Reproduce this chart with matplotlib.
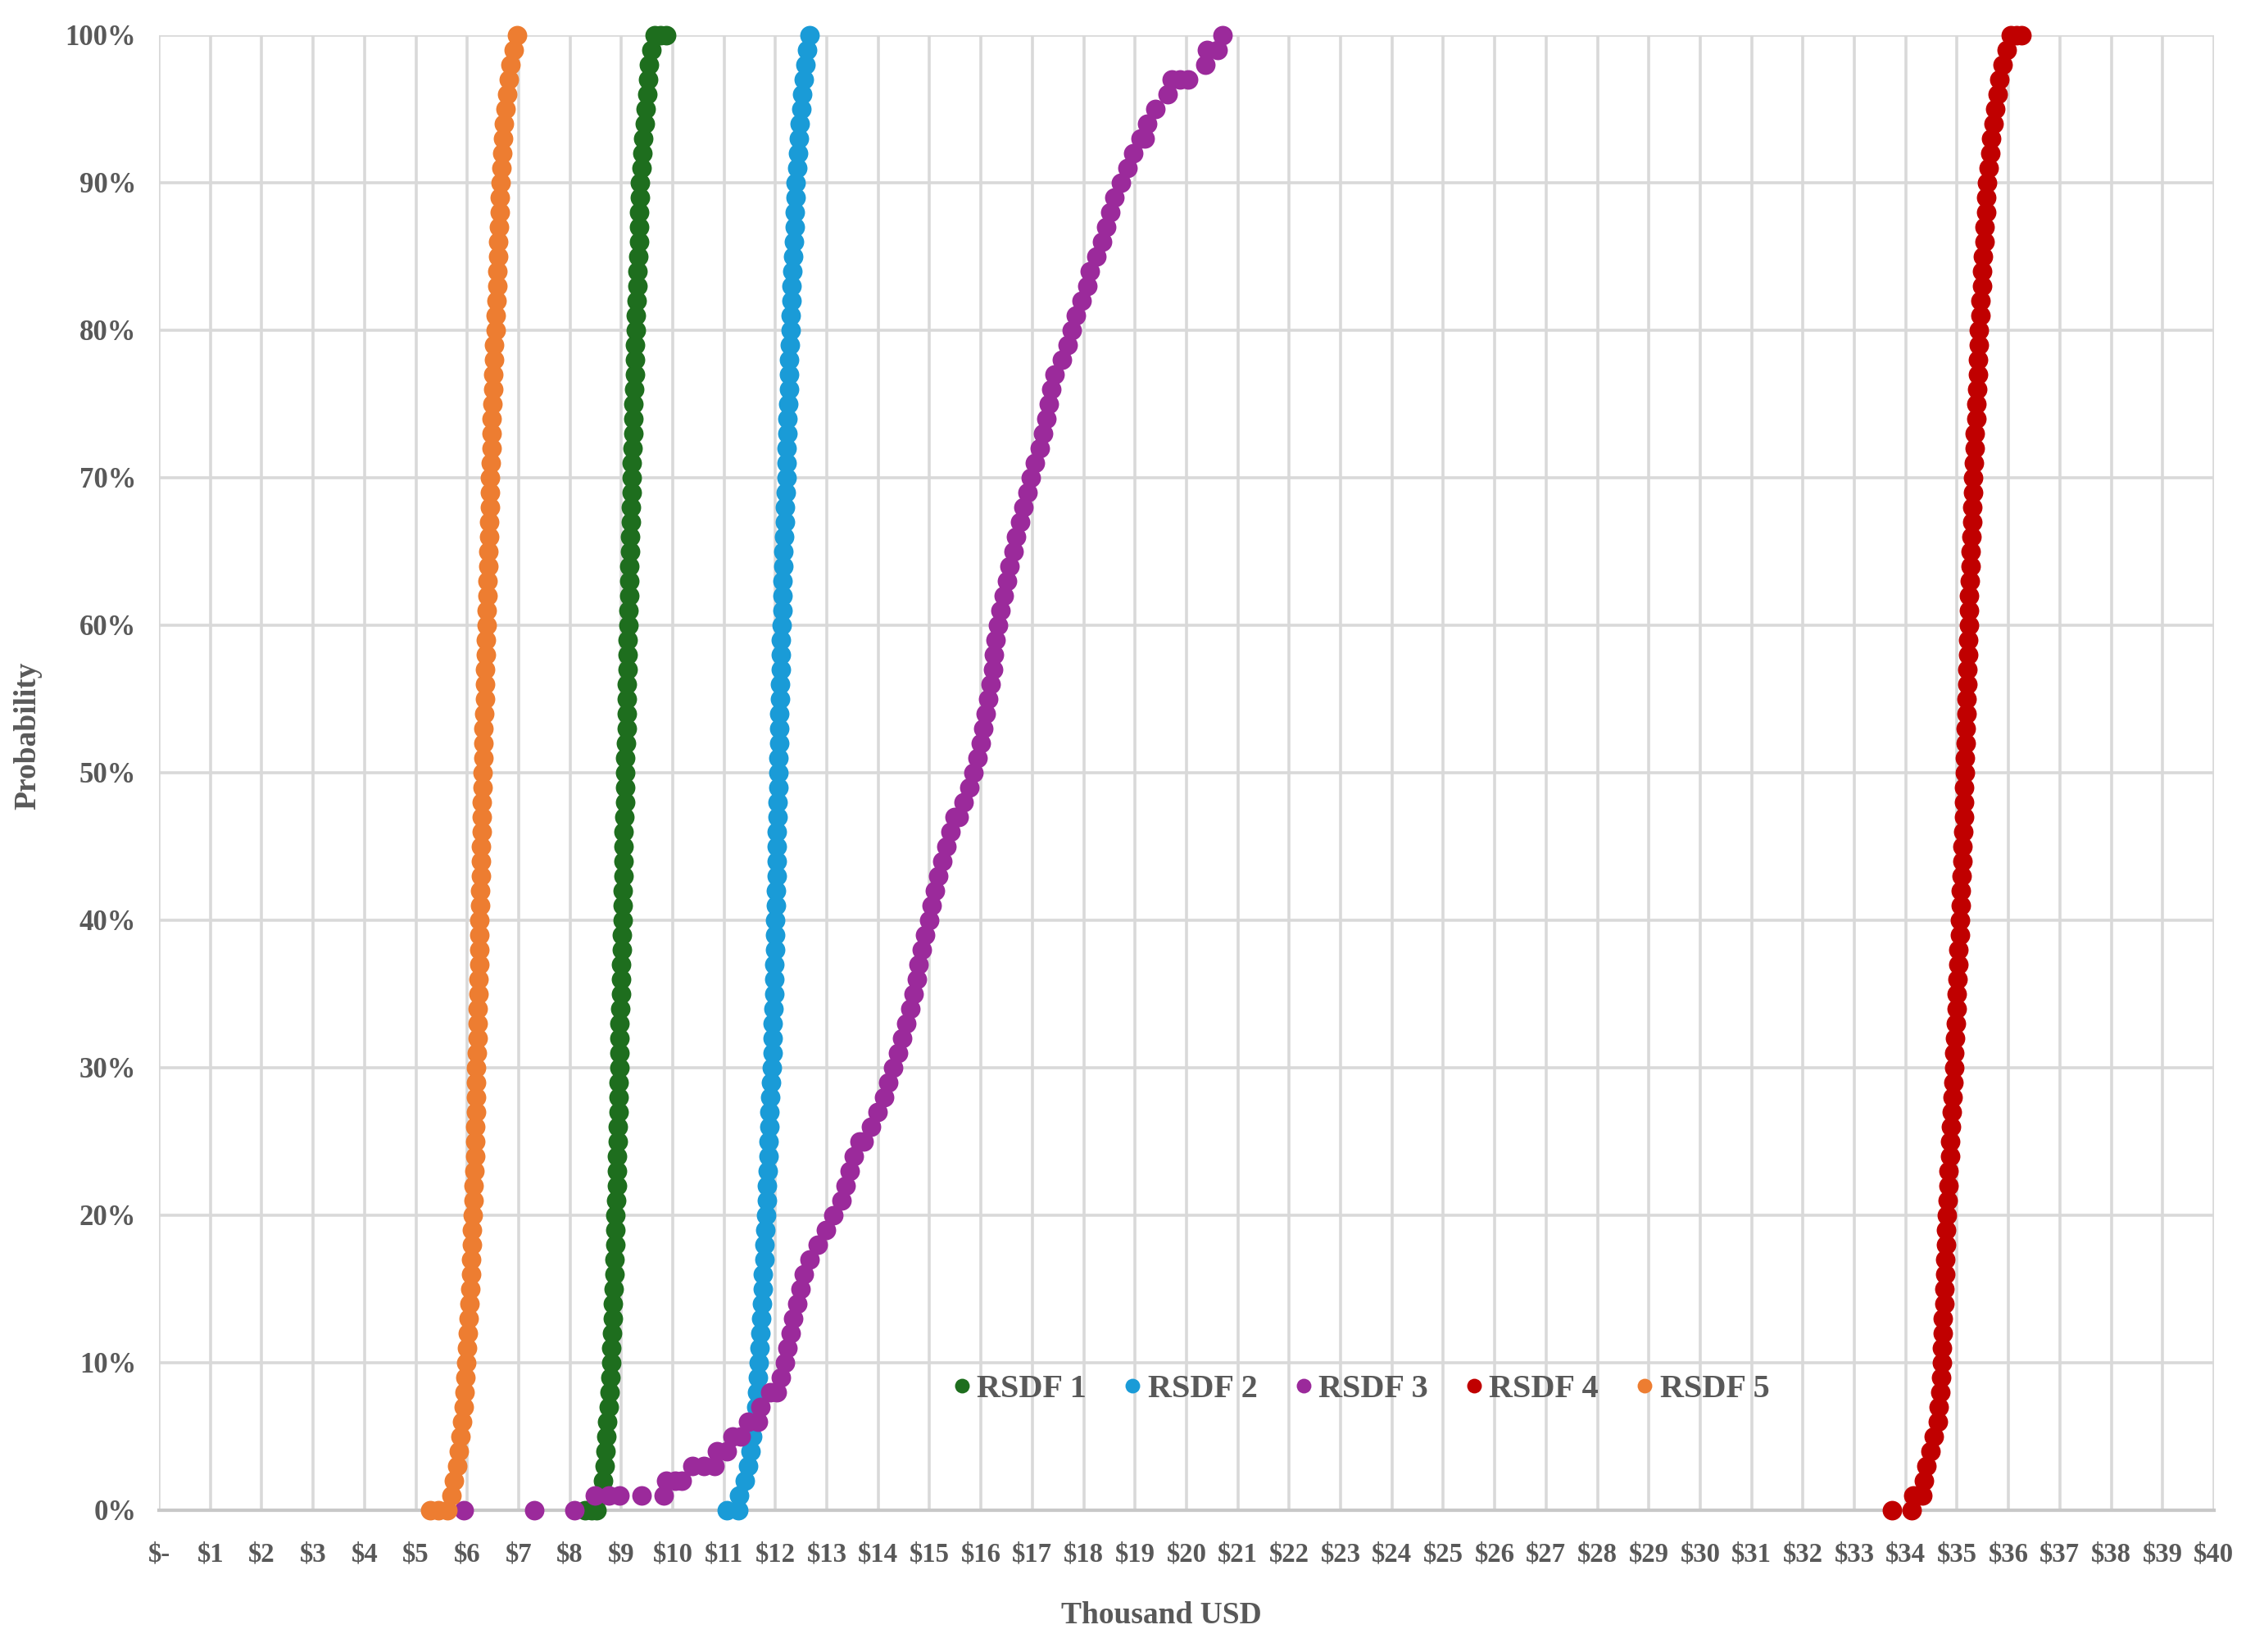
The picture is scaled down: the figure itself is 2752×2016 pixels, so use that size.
import matplotlib
matplotlib.use("Agg")
import matplotlib.pyplot as plt
from matplotlib.ticker import FixedLocator

plt.rcParams['text.parse_math'] = False
plt.rcParams['font.family'] = ['Liberation Serif', 'DejaVu Serif']

# ---------------- data (Thousand USD at each probability level) ----------------
PROB = [0, 1, 2, 3, 4, 5, 6, 7, 8, 9, 10, 11, 12, 13, 14, 15, 16, 17, 18, 19, 20,
        21, 22, 23, 24, 25, 26, 27, 28, 29, 30, 31, 32, 33, 34, 35, 36, 37, 38, 39, 40,
        41, 42, 43, 44, 45, 46, 47, 48, 49, 50, 51, 52, 53, 54, 55, 56, 57, 58, 59, 60,
        61, 62, 63, 64, 65, 66, 67, 68, 69, 70, 71, 72, 73, 74, 75, 76, 77, 78, 79, 80,
        81, 82, 83, 84, 85, 86, 87, 88, 89, 90, 91, 92, 93, 94, 95, 96, 97, 98, 99, 100]

SERIES = ["RSDF 1", "RSDF 2", "RSDF 3", "RSDF 4", "RSDF 5"]
COLORS = ["#1e6e1e", "#1a9bd7", "#9b2a9b", "#c00000", "#ed7d31"]

rsdf1 = [8.52, 8.60, 8.64, 8.67, 8.69, 8.71, 8.73, 8.75, 8.77, 8.79, 8.80,
         8.81, 8.82, 8.83, 8.84, 8.85, 8.86, 8.87, 8.88, 8.88, 8.89,
         8.90, 8.91, 8.91, 8.92, 8.93, 8.93, 8.94, 8.95, 8.95, 8.96,
         8.96, 8.97, 8.97, 8.98, 8.99, 8.99, 9.00, 9.01, 9.01, 9.02,
         9.02, 9.03, 9.04, 9.04, 9.05, 9.05, 9.06, 9.07, 9.07, 9.08,
         9.08, 9.09, 9.10, 9.10, 9.11, 9.11, 9.12, 9.13, 9.13, 9.14,
         9.14, 9.15, 9.16, 9.16, 9.17, 9.17, 9.18, 9.19, 9.20, 9.21,
         9.21, 9.22, 9.23, 9.23, 9.24, 9.25, 9.26, 9.26, 9.27, 9.28,
         9.29, 9.30, 9.31, 9.32, 9.33, 9.34, 9.35, 9.35, 9.36, 9.37,
         9.39, 9.41, 9.43, 9.45, 9.48, 9.50, 9.52, 9.54, 9.59, 9.65]
rsdf1_extra_x = [8.30, 8.42, 9.76, 9.87]
rsdf1_extra_p = [0, 0, 100, 100]

rsdf2 = [11.27, 11.30, 11.41, 11.47, 11.51, 11.55, 11.59, 11.62, 11.64, 11.66, 11.68,
         11.69, 11.71, 11.72, 11.74, 11.75, 11.76, 11.78, 11.79, 11.80, 11.82,
         11.83, 11.84, 11.85, 11.86, 11.87, 11.88, 11.89, 11.90, 11.91, 11.93,
         11.94, 11.95, 11.95, 11.96, 11.97, 11.97, 11.98, 11.99, 11.99, 12.00,
         12.01, 12.01, 12.02, 12.02, 12.03, 12.03, 12.04, 12.04, 12.05, 12.05,
         12.06, 12.07, 12.07, 12.08, 12.09, 12.09, 12.10, 12.11, 12.11, 12.12,
         12.13, 12.14, 12.14, 12.15, 12.16, 12.17, 12.18, 12.19, 12.20, 12.21,
         12.22, 12.22, 12.23, 12.24, 12.25, 12.26, 12.27, 12.27, 12.28, 12.29,
         12.30, 12.31, 12.32, 12.33, 12.35, 12.36, 12.37, 12.38, 12.39, 12.40,
         12.42, 12.44, 12.46, 12.48, 12.50, 12.52, 12.55, 12.58, 12.62, 12.67]
rsdf2_extra_x = [11.05]
rsdf2_extra_p = [0]

rsdf3 = [8.08, 9.83, 10.17, 10.82, 11.05, 11.33, 11.66, 11.71, 12.03, 12.10, 12.18,
         12.24, 12.29, 12.35, 12.42, 12.49, 12.56, 12.67, 12.82, 12.98, 13.12,
         13.28, 13.36, 13.44, 13.52, 13.64, 13.86, 13.99, 14.11, 14.20, 14.29,
         14.38, 14.46, 14.55, 14.63, 14.69, 14.75, 14.79, 14.85, 14.92, 14.99,
         15.04, 15.11, 15.17, 15.24, 15.33, 15.41, 15.49, 15.67, 15.77, 15.85,
         15.93, 15.99, 16.04, 16.09, 16.14, 16.19, 16.23, 16.25, 16.28, 16.33,
         16.38, 16.44, 16.50, 16.56, 16.63, 16.69, 16.76, 16.83, 16.90, 16.97,
         17.05, 17.14, 17.21, 17.27, 17.32, 17.37, 17.44, 17.58, 17.69, 17.77,
         17.85, 17.96, 18.07, 18.12, 18.25, 18.36, 18.44, 18.52, 18.59, 18.72,
         18.86, 18.97, 19.10, 19.23, 19.39, 19.63, 19.71, 20.36, 20.40, 20.71]
rsdf3_extra_x = [5.94, 7.31, 8.48, 8.76, 8.96, 9.40, 9.87, 10.05, 10.38, 10.60,
                 10.86, 11.16, 11.47, 11.90, 13.72, 15.57, 19.18, 19.87, 20.03, 20.60]
rsdf3_extra_p = [0, 0, 1, 1, 1, 1, 2, 2, 3, 3,
                 4, 5, 6, 8, 25, 47, 93, 97, 97, 99]

rsdf4 = [34.12, 34.15, 34.36, 34.41, 34.49, 34.55, 34.62, 34.65, 34.67, 34.69, 34.70,
         34.71, 34.72, 34.73, 34.75, 34.76, 34.77, 34.77, 34.78, 34.79, 34.80,
         34.81, 34.83, 34.84, 34.86, 34.87, 34.88, 34.90, 34.91, 34.93, 34.94,
         34.95, 34.96, 34.97, 34.99, 35.00, 35.01, 35.02, 35.03, 35.05, 35.06,
         35.07, 35.08, 35.09, 35.10, 35.11, 35.12, 35.13, 35.13, 35.14, 35.15,
         35.16, 35.17, 35.17, 35.18, 35.19, 35.20, 35.20, 35.21, 35.22, 35.23,
         35.24, 35.24, 35.25, 35.26, 35.27, 35.28, 35.29, 35.30, 35.31, 35.32,
         35.33, 35.34, 35.35, 35.37, 35.38, 35.39, 35.40, 35.41, 35.42, 35.43,
         35.45, 35.46, 35.48, 35.49, 35.51, 35.53, 35.54, 35.56, 35.57, 35.59,
         35.62, 35.64, 35.67, 35.71, 35.75, 35.79, 35.83, 35.88, 35.96, 36.05]
rsdf4_extra_x = [33.74, 34.33, 36.15, 36.25]
rsdf4_extra_p = [0, 1, 100, 100]

rsdf5 = [5.61, 5.69, 5.74, 5.80, 5.84, 5.87, 5.90, 5.93, 5.95, 5.97, 5.98,
         6.00, 6.01, 6.03, 6.04, 6.06, 6.07, 6.08, 6.09, 6.10, 6.11,
         6.12, 6.13, 6.14, 6.15, 6.16, 6.16, 6.17, 6.17, 6.18, 6.18,
         6.19, 6.20, 6.20, 6.21, 6.22, 6.22, 6.23, 6.23, 6.24, 6.24,
         6.25, 6.25, 6.26, 6.27, 6.27, 6.28, 6.29, 6.29, 6.30, 6.30,
         6.31, 6.32, 6.32, 6.33, 6.34, 6.34, 6.35, 6.36, 6.37, 6.38,
         6.38, 6.39, 6.40, 6.41, 6.41, 6.42, 6.43, 6.44, 6.44, 6.45,
         6.46, 6.47, 6.47, 6.48, 6.49, 6.50, 6.51, 6.52, 6.53, 6.55,
         6.56, 6.57, 6.58, 6.59, 6.60, 6.61, 6.62, 6.63, 6.64, 6.65,
         6.66, 6.68, 6.70, 6.72, 6.75, 6.78, 6.81, 6.85, 6.90, 6.97]
rsdf5_extra_x = [5.28, 5.44]
rsdf5_extra_p = [0, 0]

X_TICKS = list(range(0, 41))
X_TICK_LABELS = ["$-"] + ["$" + str(v) for v in range(1, 41)]
Y_TICKS = [0, 10, 20, 30, 40, 50, 60, 70, 80, 90, 100]
Y_TICK_LABELS = ["0%", "10%", "20%", "30%", "40%", "50%", "60%", "70%", "80%", "90%", "100%"]

# ---------------- figure ----------------
fig = plt.figure(figsize=(13.76, 10.08), dpi=200)
ax = fig.add_axes([0.0705, 0.086, 0.9113, 0.8929])

main = [rsdf1, rsdf2, rsdf3, rsdf4, rsdf5]
ex_x = [rsdf1_extra_x, rsdf2_extra_x, rsdf3_extra_x, rsdf4_extra_x, rsdf5_extra_x]
ex_p = [rsdf1_extra_p, rsdf2_extra_p, rsdf3_extra_p, rsdf4_extra_p, rsdf5_extra_p]

for i, name in enumerate(SERIES):
    xs = list(main[i]) + list(ex_x[i])
    ps = list(PROB) + list(ex_p[i])
    ax.plot(xs, ps, linestyle="none", marker="o", markersize=8.6,
            markeredgewidth=0, color=COLORS[i], label=name, zorder=3 + i,
            clip_on=False)

ax.set_xlim(0, 40)
ax.set_ylim(0, 100)
ax.xaxis.set_major_locator(FixedLocator(X_TICKS))
ax.set_xticklabels(X_TICK_LABELS)
ax.yaxis.set_major_locator(FixedLocator(Y_TICKS))
ax.set_yticklabels(Y_TICK_LABELS)

ax.grid(True, color="#d9d9d9", linewidth=1.3, zorder=0)
ax.set_axisbelow(True)
for s in ["top", "right", "left"]:
    ax.spines[s].set_visible(False)
ax.spines["bottom"].set_color("#c8c8c8")
ax.spines["bottom"].set_linewidth(1.5)

ax.tick_params(axis="both", length=0, labelcolor="#595959")
ax.tick_params(axis="x", pad=14, labelsize=11.8)
ax.tick_params(axis="y", pad=10, labelsize=12.5)
for lab in ax.get_xticklabels() + ax.get_yticklabels():
    lab.set_fontweight("bold")

ax.set_xlabel("Thousand USD", fontsize=13.5, fontweight="bold", color="#595959", labelpad=16)
ax.xaxis.set_label_coords(0.488, -0.062)
ax.set_ylabel("Probability", fontsize=13.5, fontweight="bold", color="#595959", labelpad=16)
ax.yaxis.set_label_coords(-0.057, 0.525)

leg = ax.legend(loc="center", bbox_to_anchor=(0.584, 0.082), ncol=5, frameon=False,
                prop={"size": 14.5, "weight": "bold"}, handletextpad=0.05,
                columnspacing=1.0, markerscale=0.75, handlelength=0.8)
for t in leg.get_texts():
    t.set_color("#595959")

fig.savefig("out.png", dpi=200, facecolor="white")
